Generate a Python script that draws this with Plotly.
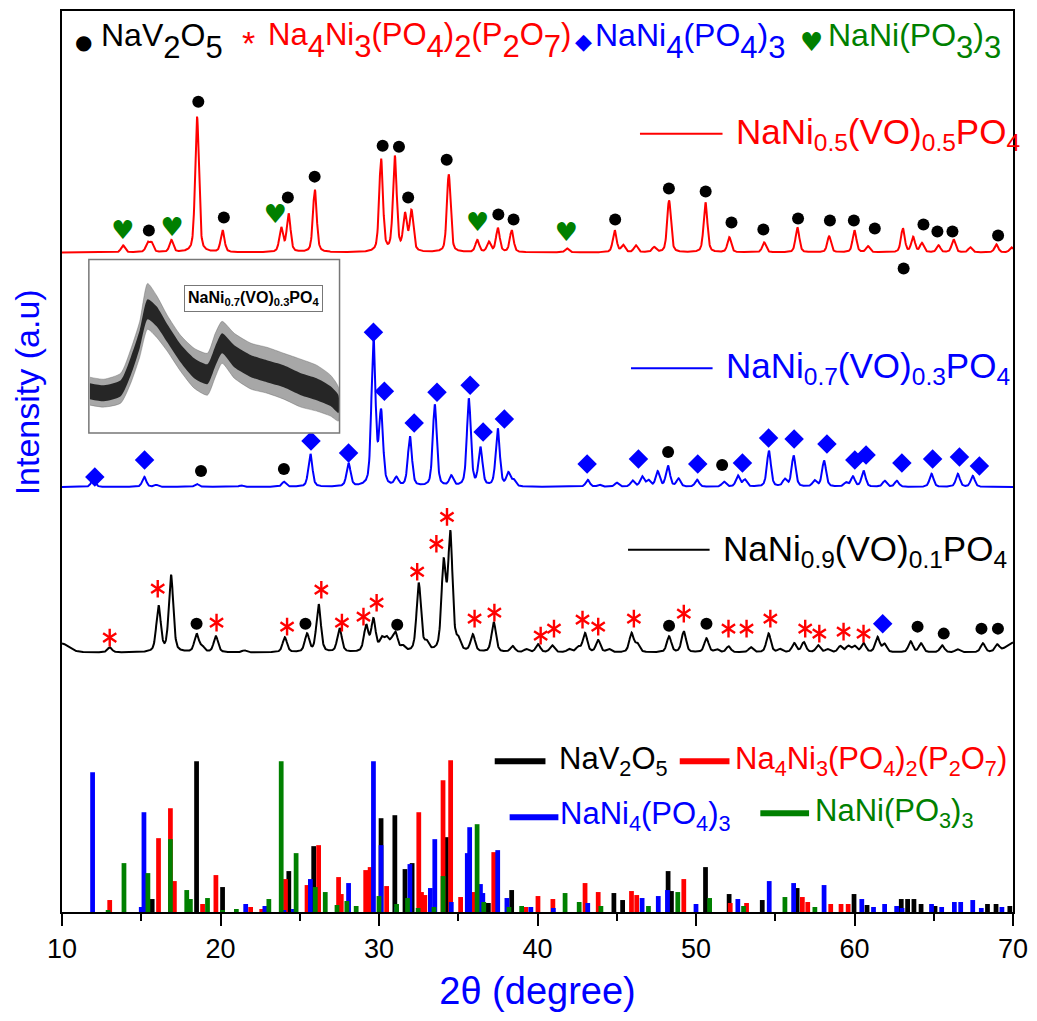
import numpy as np
import plotly.graph_objects as go

RED, BLUE, GREEN, BLACK = "#FF0000", "#0000FF", "#008000", "#000000"
FONT = "Liberation Sans, Arial, sans-serif"
SYM = "DejaVu Sans, sans-serif"

# ---------------- XRD patterns: peak 2theta and height above own baseline ----------------
red_pos = [13.85, 15.40, 15.65, 16.90, 18.52, 20.13, 23.83, 24.30, 25.95, 30.13, 31.00, 31.64, 32.05,
           34.40, 36.20, 36.93, 37.50, 38.37, 41.86, 44.87, 45.40, 46.20, 47.35, 48.30, 50.60, 52.10,
           54.30, 56.40, 58.40, 60.00, 60.85, 63.05, 63.70, 64.25, 65.30, 66.25, 67.30, 68.95, 69.90]
red_int = [7, 9, 9, 12, 136, 22, 24, 38, 63, 93, 95, 36, 40,
           78, 12, 10, 24, 22, 4, 22, 7, 7, 5, 52, 50, 15,
           10, 25, 16, 22, 6, 24, 15, 9, 7, 13, 5, 8, 5]

blue_pos = [11.97, 15.19, 15.95, 18.50, 21.30, 24.00, 25.67, 28.08, 29.65, 30.13, 31.10, 31.95, 33.52,
            34.56, 35.67, 36.40, 37.49, 38.16, 38.50, 43.17, 43.90, 45.00, 46.00, 46.60, 47.00, 47.58,
            48.23, 48.90, 50.07, 51.76, 52.64, 53.08, 54.60, 55.60, 56.16, 57.48, 58.08, 59.46, 59.90,
            60.57, 61.90, 62.67, 64.86, 66.52, 67.46]
blue_int = [8, 10, 2, 3, 1.5, 5, 33, 23, 148, 72, 8, 50, 82,
            10, 87, 38, 58, 13, 6, 7, 2, 4, 6, 10, 6, 15,
            21, 8, 7, 5, 11, 7, 36, 7, 31, 6, 26, 4, 10,
            16, 6, 6, 13, 13, 11]

black_pos = [13.01, 16.09, 16.88, 18.49, 18.85, 19.71, 21.50, 24.06, 25.46, 26.19, 27.51, 29.19, 29.65,
             30.17, 30.48, 30.80, 31.05, 31.50, 32.51, 33.00, 34.08, 34.50, 35.00, 35.92, 37.24, 38.43,
             39.30, 40.03, 40.92, 42.00, 42.57, 43.00, 43.83, 44.50, 45.93, 46.30, 48.30, 49.23, 50.66,
             51.30, 52.05, 53.46, 54.58, 55.30, 56.20, 56.80, 57.70, 58.30, 59.10, 59.60, 60.00, 60.57,
             61.45, 61.90, 63.54, 64.20, 65.53, 66.50, 68.10, 69.00]
black_int = [5, 46, 77, 18, 5, 16, 2, 15, 18, 48, 24, 26, 32,
             12, 12, 8, 17, 5, 68, 8, 86, 116, 10, 17, 30, 6,
             3, 8, 7, 3, 5, 19, 12, 3, 19, 8, 16, 21, 14,
             3, 6, 5, 19, 3, 9, 10, 7, 3, 6, 6, 6, 9,
             15, 8, 11, 9, 7, 3, 9, 7]
black_edge_pos = [10.0, 70.0]
black_edge_int = [9, 10]

# baselines of the stacked patterns (a.u.)
red_base, blue_base, black_base = 661, 426, 260

# ---------------- phase markers: 2theta and height above the pattern baseline ----------------
red_circ_pos = [15.48, 18.60, 20.21, 24.25, 25.94, 30.23, 31.26, 31.84, 34.27, 37.53, 38.49, 44.90, 48.29,
                50.61, 52.24, 54.25, 56.44, 58.45, 59.96, 61.28, 63.10, 64.35, 65.23, 66.18, 69.06]
red_circ_h = [22, 151, 35, 55, 76, 107, 106, 55, 93, 38, 33, 33, 64,
              61, 30, 23, 34, 32, 32, 24, -16, 28, 21, 21, 17]
red_heart_pos = [13.85, 16.95, 23.47, 36.23, 41.82]
red_heart_h = [20, 23, 36, 28, 18]

blue_dia_pos = [12.07, 15.21, 25.71, 28.08, 29.65, 30.34, 32.22, 33.66, 35.75, 36.57, 37.91, 43.13,
                46.37, 50.11, 52.93, 54.58, 56.19, 58.26, 60.02, 60.73, 62.99, 64.93, 66.62, 67.88]
blue_dia_h = [10, 27, 46, 34, 155, 96, 64, 95, 102, 55, 68, 23,
              28, 23, 24, 49, 48, 43, 27, 32, 24, 28, 30, 21]
blue_circ_pos = [18.77, 24.00, 48.24, 51.65]
blue_circ_h = [16, 18, 35, 22]

black_ast_pos = [13.01, 16.04, 19.75, 24.20, 26.36, 27.66, 29.02, 29.85, 32.41, 33.62, 34.29, 36.03, 37.28,
                 40.20, 41.04, 42.84, 43.83, 46.08, 49.23, 52.05, 53.19, 54.69, 56.89, 57.78, 59.31, 60.57]
black_ast_h = [15, 64, 30, 26, 63, 30, 36, 50, 81, 109, 136, 34, 40,
               17, 24, 33, 26, 34, 39, 24, 24, 34, 24, 19, 21, 19]
black_circ_pos = [18.49, 25.36, 31.15, 48.30, 50.66, 63.98, 65.63, 68.01, 69.05]
black_circ_h = [29, 29, 28, 27, 29, 26, 19, 24, 24]
black_dia_pos = [61.78]
black_dia_h = [29]

# ---------------- reference stick patterns ----------------
stick_black_pos = [15.69, 18.49, 20.13, 24.31, 25.88, 30.13, 31.00, 31.64, 32.09, 34.25, 36.90, 38.37, 44.82,
                   45.37, 48.24, 48.45, 50.60, 52.09, 54.18, 56.38, 59.97, 60.79, 62.95, 63.35, 63.75, 64.20,
                   65.08, 68.39, 68.93, 69.80]
stick_black_h = [13, 151, 25, 41, 66, 94, 97, 43, 49, 75, 9, 22, 19,
                 12, 41, 21, 45, 18, 12, 24, 18, 7, 13, 13, 13, 8,
                 6, 8, 8, 6]
stick_red_pos = [13.01, 16.09, 16.84, 17.09, 18.87, 19.71, 21.90, 22.60, 24.10, 25.46, 26.19, 27.45, 27.62,
                 29.16, 29.44, 30.48, 32.51, 32.68, 32.89, 34.04, 34.52, 35.15, 35.92, 37.24, 39.27, 40.03,
                 40.97, 43.00, 43.83, 45.93, 46.26, 49.23, 52.16, 53.19, 56.71, 57.05, 58.50, 59.15, 59.60]
stick_red_h = [12, 74, 104, 31, 8, 37, 5, 3, 33, 27, 67, 35, 18,
               42, 45, 26, 100, 20, 17, 132, 152, 15, 20, 60, 5, 16,
               13, 29, 20, 21, 17, 33, 9, 9, 15, 10, 8, 8, 8]
stick_blue_pos = [11.93, 15.00, 15.17, 17.90, 21.59, 22.80, 24.00, 24.60, 25.67, 28.08, 29.65, 30.13, 31.10,
                  31.95, 33.24, 33.52, 34.56, 35.57, 35.72, 36.40, 36.55, 37.49, 38.07, 39.58, 41.00, 43.17,
                  46.60, 47.62, 48.20, 50.00, 52.64, 54.62, 56.16, 58.08, 60.46, 61.90, 62.66, 64.86, 66.30,
                  66.70, 67.46, 61.20, 63.00, 65.50, 68.00, 69.30]
stick_blue_h = [140, 5, 100, 1, 8, 6, 2, 3, 33, 29, 151, 67, 5,
                48, 24, 73, 10, 59, 85, 28, 19, 62, 14, 5, 4, 9,
                14, 16, 22, 8, 13, 31, 29, 27, 13, 8, 6, 8, 10,
                10, 12, 5, 4, 5, 4, 5]
stick_green_pos = [12.91, 13.91, 15.42, 16.84, 17.87, 18.10, 19.18, 20.13, 21.00, 23.05, 23.83, 24.77, 25.98,
                   26.61, 27.35, 27.97, 28.56, 30.00, 31.11, 31.80, 32.47, 33.47, 34.04, 36.19, 36.61, 38.20,
                   39.00, 41.74, 42.63, 44.00, 47.00, 48.85, 50.86, 53.00, 55.61, 57.50]
stick_green_h = [2, 49, 39, 73, 22, 13, 14, 2, 3, 13, 151, 59, 25,
                 20, 7, 11, 6, 16, 8, 14, 4, 5, 36, 88, 10, 5,
                 6, 19, 10, 6, 6, 20, 14, 6, 15, 5]

# ---------------- inset: amorphous NaNi0.7(VO)0.3PO4 pattern (noise envelope) ----------------
inset_x = [10.3, 14.2, 18.9, 21.7, 24.2, 26.4, 28.9, 31.9, 35.6, 39.4, 43.1, 45.3, 47.2, 50.6, 55.3,
           59.7, 64.4, 69.2, 73.6, 77.5, 79.7]
inset_inner_hi = [50, 48, 53, 76, 103, 134, 127, 109, 89, 75, 69, 87, 100, 88, 78, 73, 68, 60, 55, 47, 38]
inset_inner_lo = [34, 32, 37, 58, 85, 114, 107, 91, 71, 55, 49, 67, 80, 66, 56, 51, 46, 38, 33, 27, 20]
inset_outer_hi = [56, 54, 60, 84, 112, 150, 138, 118, 98, 85, 80, 100, 112, 100, 90, 86, 80, 74, 68, 58, 46]
inset_outer_lo = [28, 26, 30, 50, 76, 104, 96, 82, 62, 45, 38, 56, 70, 55, 44, 40, 34, 26, 22, 17, 12]

# ---------------- build ----------------
grid = np.arange(10.0, 70.0001, 0.02)


def profile(pos, inten, fwhm):
    y = np.zeros_like(grid)
    for p, h in zip(pos, inten):
        d = (grid - p) / fwhm
        y += h * (0.55 * np.exp(-4 * np.log(2) * d ** 2) + 0.45 / (1 + 4 * d ** 2))
    return y


def PX(px):
    return (px - 62) / 956.0


def PY(py):
    return (912 - py) / 903.0


fig = go.Figure()

for pos, h, col in [(stick_black_pos, stick_black_h, BLACK), (stick_red_pos, stick_red_h, RED),
                    (stick_blue_pos, stick_blue_h, BLUE), (stick_green_pos, stick_green_h, GREEN)]:
    fig.add_trace(go.Bar(x=pos, y=h, width=0.3, marker=dict(color=col, line=dict(width=0))))

y_red = red_base + profile(red_pos, red_int, 0.28)
y_blue = blue_base + profile(blue_pos, blue_int, 0.30)
y_black = black_base + profile(black_pos, black_int, 0.33) + profile(black_edge_pos, black_edge_int, 1.0)
for yy, col in [(y_red, RED), (y_blue, BLUE), (y_black, BLACK)]:
    fig.add_trace(go.Scatter(x=grid, y=yy, mode="lines", line=dict(color=col, width=2)))


def circles(pos, h, base, col=BLACK, size=12):
    fig.add_trace(go.Scatter(x=pos, y=[base + v for v in h], mode="markers",
                             marker=dict(symbol="circle", size=size, color=col)))


def diamonds(pos, h, base):
    fig.add_trace(go.Scatter(x=pos, y=[base + v for v in h], mode="markers",
                             marker=dict(symbol="diamond", size=15, color=BLUE)))


circles(red_circ_pos, red_circ_h, red_base)
fig.add_trace(go.Scatter(x=red_heart_pos, y=[red_base + v for v in red_heart_h], mode="text",
                         text=["♥"] * len(red_heart_pos), textposition="middle center",
                         textfont=dict(family=SYM, size=26, color=GREEN)))
diamonds(blue_dia_pos, blue_dia_h, blue_base)
circles(blue_circ_pos, blue_circ_h, blue_base)
for sym in ["y-up-open", "y-down-open"]:
    fig.add_trace(go.Scatter(x=black_ast_pos, y=[black_base + v for v in black_ast_h], mode="markers",
                             marker=dict(symbol=sym, size=11, color=RED, line=dict(width=2.4, color=RED))))
circles(black_circ_pos, black_circ_h, black_base)
diamonds(black_dia_pos, black_dia_h, black_base)

# inset
fig.add_trace(go.Scatter(x=inset_x + inset_x[::-1], y=inset_outer_hi + inset_outer_lo[::-1],
                         fill="toself", fillcolor="rgba(80,80,80,0.5)",
                         line=dict(width=0.6, color="rgba(90,90,90,0.6)", shape="spline", smoothing=0.6),
                         mode="lines", xaxis="x2", yaxis="y2"))
fig.add_trace(go.Scatter(x=inset_x + inset_x[::-1], y=inset_inner_hi + inset_inner_lo[::-1],
                         fill="toself", fillcolor="rgba(15,15,15,0.85)",
                         line=dict(width=0, shape="spline", smoothing=0.6),
                         mode="lines", xaxis="x2", yaxis="y2"))

ann = []


def text(px, py, s, color, size, anchor="left", family=FONT, **kw):
    ann.append(dict(x=PX(px), y=PY(py), xref="paper", yref="paper", text=s, showarrow=False,
                    xanchor=anchor, yanchor="middle", font=dict(family=family, size=size, color=color), **kw))


def fs(s, size=31):
    return '<sub><span style="font-size:%dpx;baseline-shift:-5px">%s</span></sub>' % (size, s)


# top legend
text(84, 40, "●", BLACK, 20, "center", SYM)
text(99, 39, "NaV" + fs("2") + "O" + fs("5"), BLACK, 32)
text(249, 41, "*", RED, 34, "center")
text(267, 39, "Na" + fs("4") + "Ni" + fs("3") + "(PO" + fs("4") + ")" + fs("2") + "(P" + fs("2") + "O" + fs("7") + ")", RED, 31)
text(586, 40, "◆", BLUE, 22, "center", SYM)
text(596, 39, "NaNi" + fs("4") + "(PO" + fs("4") + ")" + fs("3"), BLUE, 32)
text(815, 40, "♥", GREEN, 26, "center", SYM)
text(830, 39, "NaNi(PO" + fs("3") + ")" + fs("3"), GREEN, 32)

# sample labels
shapes = []


def seg(x0, x1, py, col, w):
    shapes.append(dict(type="line", xref="paper", yref="paper", x0=PX(x0), x1=PX(x1), y0=PY(py), y1=PY(py),
                       line=dict(color=col, width=w)))


seg(643, 726, 132, RED, 2)
text(738, 132, "NaNi<sub>0.5</sub>(VO)<sub>0.5</sub>PO<sub>4</sub>", RED, 35)
seg(634, 716, 367, BLUE, 2)
text(727, 367, "NaNi<sub>0.7</sub>(VO)<sub>0.3</sub>PO<sub>4</sub>", BLUE, 35)
seg(631, 713, 549, BLACK, 2)
text(724, 550, "NaNi<sub>0.9</sub>(VO)<sub>0.1</sub>PO<sub>4</sub>", BLACK, 35)

# stick legend
seg(497, 548, 761, BLACK, 6)
text(560, 761, "NaV<sub>2</sub>O<sub>5</sub>", BLACK, 31)
seg(683, 733, 761, RED, 6)
text(737, 761, "Na<sub>4</sub>Ni<sub>3</sub>(PO<sub>4</sub>)<sub>2</sub>(P<sub>2</sub>O<sub>7</sub>)", RED, 31)
seg(512, 561, 817, BLUE, 6)
text(561, 816, "NaNi<sub>4</sub>(PO<sub>4</sub>)<sub>3</sub>", BLUE, 31)
seg(764, 813, 813, GREEN, 6)
text(817, 813, "NaNi(PO<sub>3</sub>)<sub>3</sub>", GREEN, 31)

# inset frame + label
shapes.append(dict(type="rect", xref="paper", yref="paper", x0=PX(89), x1=PX(341), y0=PY(432), y1=PY(258),
                   line=dict(color="#777777", width=1.5)))
text(254.5, 297, "<b>NaNi<sub>0.7</sub>(VO)<sub>0.3</sub>PO<sub>4</sub></b>", BLACK, 16, "center",
     bordercolor="#777777", borderwidth=1, borderpad=3, bgcolor="white")

# y title
ann.append(dict(x=PX(27), y=PY(391), xref="paper", yref="paper", text="Intensity (a.u)", showarrow=False,
                textangle=-90, xanchor="center", yanchor="middle", font=dict(family=FONT, size=34, color=BLUE)))

fig.update_layout(
    width=1037, height=1021, margin=dict(l=62, r=19, t=9, b=109),
    paper_bgcolor="white", plot_bgcolor="white", showlegend=False, barmode="overlay",
    annotations=ann, shapes=shapes,
    xaxis=dict(range=[10, 70], showline=True, linecolor=BLACK, linewidth=2, mirror=True,
               ticks="outside", ticklen=12, tickwidth=2, tickcolor=BLACK,
               tickvals=[10, 20, 30, 40, 50, 60, 70], tickfont=dict(family=FONT, size=27, color=BLACK),
               minor=dict(tickvals=[15, 25, 35, 45, 55, 65], ticks="outside", ticklen=7, tickwidth=2, tickcolor=BLACK),
               showgrid=False, zeroline=False,
               title=dict(text="2θ (degree)", font=dict(family=FONT, size=38, color=BLUE), standoff=14)),
    yaxis=dict(range=[0, 903], showline=True, linecolor=BLACK, linewidth=2, mirror=True, ticks="",
               showticklabels=False, showgrid=False, zeroline=False),
    xaxis2=dict(domain=[PX(89), PX(341)], range=[10, 80], visible=False, anchor="y2"),
    yaxis2=dict(domain=[PY(432), PY(258)], range=[0, 174], visible=False, anchor="x2"),
)

fig.write_html("out.html")
